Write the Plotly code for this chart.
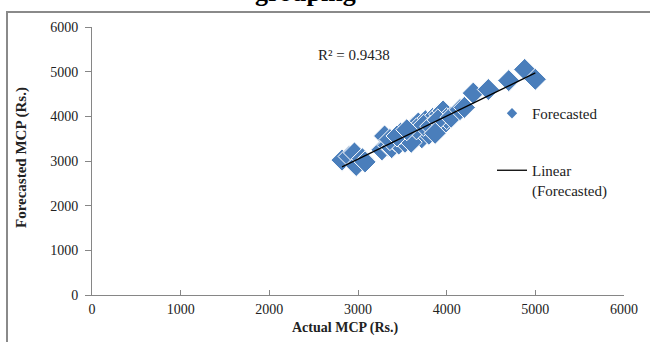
import numpy as np
import plotly.graph_objects as go

# Actual MCP (Rs.) vs Forecasted MCP (Rs.)
actual = [2820, 2900, 2960, 2980, 3050, 3080,
          3270, 3300, 3340, 3380, 3420, 3460, 3500, 3530, 3560, 3590,
          3620, 3640, 3680, 3700, 3720, 3760, 3780, 3800, 3840, 3860,
          3880, 3920, 3940, 3960, 3980, 4000,
          3480, 3600, 3660, 3740, 3820, 3900,
          3360, 3440, 3550, 3870, 4050,
          4150, 4200, 4300, 4470, 4700, 4880, 5000]
forecasted = [3020, 3100, 3180, 2900, 3050, 2980,
              3250, 3560, 3350, 3300, 3450, 3380, 3550, 3420, 3650, 3500,
              3750, 3580, 3850, 3650, 3520, 3900, 3720, 3600, 3950, 3800,
              3700, 4050, 3880, 4120, 3850, 3950,
              3620, 3420, 3720, 3800, 3780, 3920,
              3480, 3560, 3700, 3620, 3980,
              4150, 4200, 4520, 4600, 4800, 5050, 4830]
r2_label = "R² = 0.9438"
x_ticks = [0, 1000, 2000, 3000, 4000, 5000, 6000]
y_ticks = [0, 1000, 2000, 3000, 4000, 5000, 6000]

W, H = 650, 342
ML, MR, MT, MB = 92, 26, 27, 47
PW, PH = W - ML - MR, H - MT - MB


def px(xp):
    return (xp - ML) / PW


def py(yp):
    return (H - MB - yp) / PH


slope, intercept = np.polyfit(actual, forecasted, 1)
xl = np.array([min(actual), max(actual)])
yl = slope * xl + intercept

SERIF = "Liberation Serif, Times New Roman, serif"
BLUE = "#4A7EBB"
AX = "#868686"

fig = go.Figure()
fig.add_trace(go.Scatter(
    x=actual, y=forecasted, mode="markers", showlegend=False,
    marker=dict(symbol="diamond", size=17, color=BLUE,
                line=dict(color="white", width=1)),
))
fig.add_trace(go.Scatter(
    x=xl, y=yl, mode="lines", name="Linear<br>(Forecasted)",
    line=dict(color="black", width=1.3), legend="legend2",
))
fig.add_trace(go.Scatter(
    x=[None], y=[None], mode="markers", name="Forecasted", legend="legend",
    marker=dict(symbol="diamond", size=8, color=BLUE),
))

fig.update_layout(
    width=W, height=H,
    margin=dict(l=ML, r=MR, t=MT, b=MB),
    paper_bgcolor="white", plot_bgcolor="white",
    font=dict(family=SERIF, size=13, color="#222"),
    xaxis=dict(range=[0, 6000], tickvals=x_ticks, showgrid=False, zeroline=False,
               showline=True, linecolor=AX, linewidth=1, ticks="inside",
               ticklen=5, tickcolor=AX, tickfont=dict(size=14, color="#222"),
               ticklabelstandoff=1),
    yaxis=dict(range=[0, 6000], tickvals=y_ticks, showgrid=False, zeroline=False,
               showline=True, linecolor=AX, linewidth=1, ticks="outside",
               ticklen=6, tickcolor=AX, tickfont=dict(size=14, color="#222"),
               ticklabelstandoff=4),
    legend=dict(x=px(492), y=py(97), xanchor="left", yanchor="top",
                font=dict(family=SERIF, size=15, color="#222"),
                bgcolor="rgba(0,0,0,0)"),
    legend2=dict(x=px(492), y=py(154), xanchor="left", yanchor="top",
                 valign="top",
                 font=dict(family=SERIF, size=15, color="#222"),
                 bgcolor="rgba(0,0,0,0)"),
    showlegend=True,
)

# Axis titles
fig.add_annotation(text="<b>Actual MCP (Rs.)</b>", xref="paper", yref="paper",
                   x=px(345), y=py(328), xanchor="center", yanchor="middle",
                   showarrow=False, font=dict(family=SERIF, size=14, color="#222"))
fig.add_annotation(text="<b>Forecasted MCP (Rs.)</b>", xref="paper", yref="paper",
                   x=px(21), y=py(158), xanchor="center", yanchor="middle",
                   showarrow=False, textangle=-90,
                   font=dict(family=SERIF, size=15, color="#222"))
# R² label
fig.add_annotation(text=r2_label, xref="paper", yref="paper",
                   x=px(354), y=py(55), xanchor="center", yanchor="middle",
                   showarrow=False, font=dict(family=SERIF, size=15, color="#222"))
# Cut-off title
fig.add_annotation(text="<b>grouping</b>", xref="paper", yref="paper",
                   x=px(305), y=py(9), xanchor="center", yanchor="bottom",
                   showarrow=False, font=dict(family=SERIF, size=26, color="black"))

# Outer frame (top & left edges visible)
fig.add_shape(type="line", xref="paper", yref="paper",
              x0=px(6), x1=px(652), y0=py(12), y1=py(12),
              line=dict(color="#8a8a8a", width=2))
fig.add_shape(type="line", xref="paper", yref="paper",
              x0=px(7), x1=px(7), y0=py(11), y1=py(345),
              line=dict(color="#8a8a8a", width=2))

fig.write_html("out.html", config={"displayModeBar": False},
               post_script="document.body.style.margin='0';")
